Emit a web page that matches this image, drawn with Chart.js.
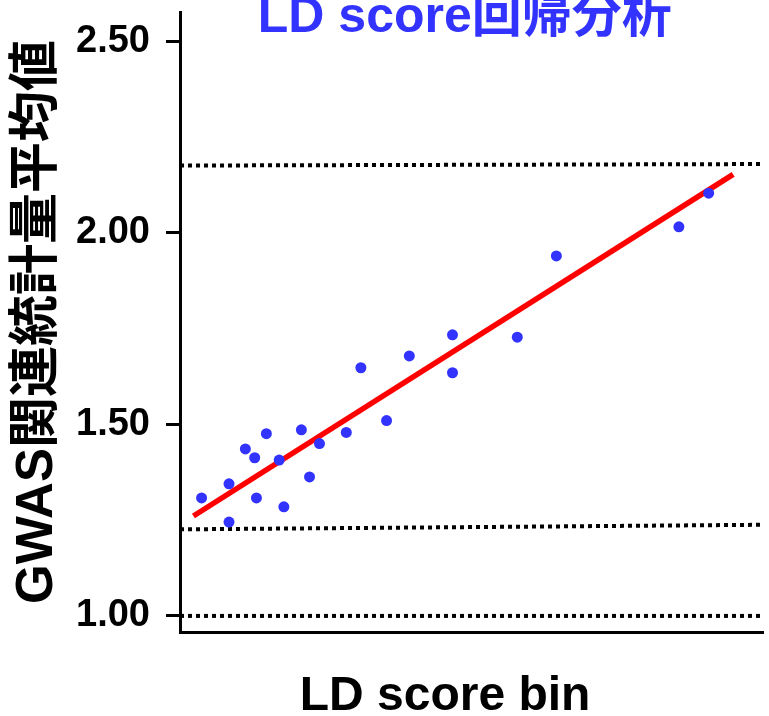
<!DOCTYPE html>
<html>
<head>
<meta charset="utf-8">
<script src="https://cdn.jsdelivr.net/npm/chart.js@4.4.1/dist/chart.umd.min.js"></script>
<style>
  html, body { margin: 0; padding: 0; background: #fff; }
  #wrap { width: 769px; height: 716px; }
</style>
</head>
<body>
<div id="wrap"><canvas id="ldChart" width="769" height="716"></canvas></div>
<script>
// LD score bin (x) and mean GWAS statistic (y) per bin
const binX = [3.7, 8.4, 8.4, 11.2, 12.8, 13.1, 14.8, 17.0, 17.8, 20.8, 22.2,
              23.9, 28.5, 31.0, 35.4, 39.3, 46.7, 46.7, 57.8, 64.5, 85.5, 90.6];
const meanStat = [1.308, 1.345, 1.245, 1.436, 1.413, 1.308, 1.476, 1.407, 1.285, 1.486, 1.363,
                  1.450, 1.479, 1.648, 1.510, 1.679, 1.734, 1.635, 1.728, 1.940, 2.016, 2.104];

// regression line end points
const fitX = [2.3, 94.8];
const fitY = [1.261, 2.153];

// dotted reference lines
const refX = [0, 100];
const refUpper = [2.176, 2.180];
const refLower = [1.226, 1.238];
const refBase = [1.0, 1.0];

const yTicks = [1.0, 1.5, 2.0, 2.5];

const sans = '"Liberation Sans", Arial, "Noto Sans CJK JP", sans-serif';

function pairs(xs, ys) {
    return xs.map((x, i) => ({ x: x, y: ys[i] }));
}

function dottedLine(ys) {
    return {
        type: "line",
        data: pairs(refX, ys),
        borderColor: "#000",
        borderWidth: 4,
        borderDash: [4, 4],
        pointRadius: 0,
        order: 2
    };
}

const ctx = document.getElementById("ldChart").getContext("2d");

new Chart(ctx, {
    type: "scatter",
    data: {
        datasets: [
            {
                data: pairs(binX, meanStat),
                backgroundColor: "#3333FF",
                borderColor: "#3333FF",
                pointRadius: 5.5,
                borderWidth: 0,
                order: 0
            },
            {
                type: "line",
                data: pairs(fitX, fitY),
                borderColor: "#FF0000",
                borderWidth: 5.5,
                pointRadius: 0,
                order: 1
            },
            dottedLine(refUpper),
            dottedLine(refLower),
            dottedLine(refBase)
        ]
    },
    options: {
        responsive: false,
        animation: false,
        layout: { padding: 0 },
        plugins: {
            legend: { display: false },
            tooltip: { enabled: false },
            title: {
                display: true,
                text: "LD score回帰分析 ",
                color: "#3333FF",
                fullSize: false,
                font: { family: sans, size: 50, weight: "bold", lineHeight: 1 },
                padding: { top: -7, bottom: -31 }
            }
        },
        scales: {
            x: {
                type: "linear",
                min: 0,
                max: 100,
                ticks: { display: false },
                grid: { display: false, drawTicks: false },
                border: { display: true, color: "#000", width: 3 },
                title: {
                    display: true,
                    // trailing spaces nudge the centred label left like the original
                    text: "LD score bin    ",
                    color: "#000",
                    font: { family: sans, size: 48, weight: "bold", lineHeight: 1 },
                    padding: { top: 39, bottom: -5 }
                },
                afterFit: function (s) { s.height = 84; }
            },
            y: {
                min: 0.958,
                max: 2.577,
                afterBuildTicks: function (s) {
                    s.ticks = yTicks.map(v => ({ value: v }));
                },
                ticks: {
                    color: "#000",
                    padding: 16,
                    font: { family: sans, size: 38, weight: "bold" },
                    callback: v => v.toFixed(2)
                },
                grid: {
                    drawOnChartArea: false,
                    drawTicks: true,
                    tickLength: 14,
                    tickWidth: 3,
                    color: "#000"
                },
                border: { display: true, color: "#000", width: 3 },
                title: {
                    display: true,
                    text: "GWAS関連統計量平均値",
                    color: "#000",
                    font: { family: sans, size: 51, weight: "bold", lineHeight: 1 },
                    padding: { top: 12, bottom: 10 }
                },
                afterFit: function (s) {
                    s.width = 180;
                    s.paddingTop = 0;
                    s.paddingBottom = 0;
                }
            }
        }
    }
});
</script>
</body>
</html>
